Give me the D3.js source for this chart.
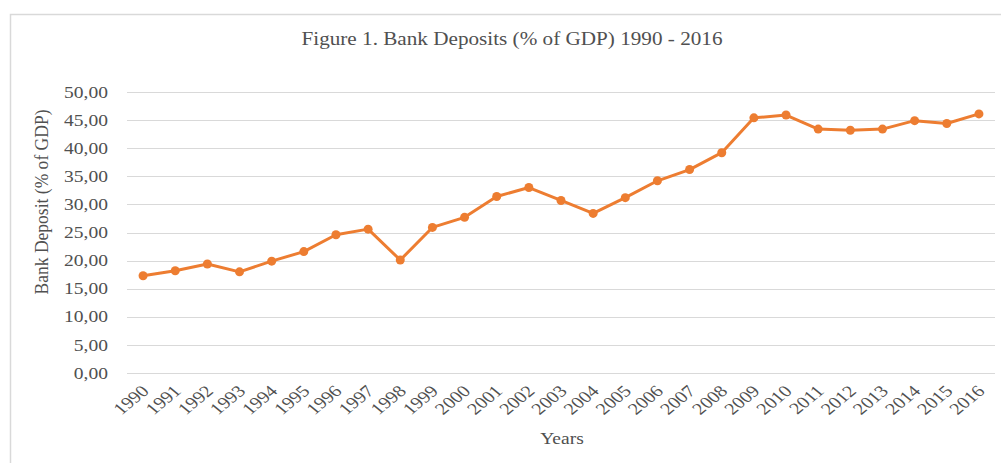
<!DOCTYPE html>
<html><head><meta charset="utf-8">
<script src="https://cdn.jsdelivr.net/npm/d3@7"></script>
<style>body{margin:0;background:#fff}svg{display:block}text{font-family:"Liberation Serif","Times New Roman",serif;fill:#505050}</style>
</head><body>
<svg id="c" width="1001" height="463"></svg>
<script>
const years = ["1990","1991","1992","1993","1994","1995","1996","1997","1998","1999","2000","2001","2002","2003","2004","2005","2006","2007","2008","2009","2010","2011","2012","2013","2014","2015","2016"];
const deposits = [17.3,18.2,19.4,18.0,19.9,21.6,24.6,25.6,20.1,25.9,27.7,31.4,33.0,30.7,28.4,31.2,34.2,36.2,39.2,45.4,45.9,43.4,43.2,43.4,44.9,44.4,46.1];
const yTicks = [0,5,10,15,20,25,30,35,40,45,50];
const title = "Figure 1. Bank Deposits (% of GDP) 1990 - 2016";
const yTitle = "Bank Deposit (% of GDP)";
const xTitle = "Years";

const svg = d3.select("#c");
const SX = 1.22;
const pLeft = 127, pRight = 995, pTop = 92, pBottom = 373;

svg.append("rect").attr("x",10.5).attr("y",14.5).attr("width",1010).attr("height",470)
  .attr("fill","#fff").attr("stroke","#d9d9d9").attr("stroke-width",1.5);

const x = d3.scaleBand().domain(years).range([pLeft,pRight]);
const y = d3.scaleLinear().domain([0,50]).range([pBottom,pTop]);

// gridlines
svg.append("g").selectAll("line").data(yTicks).join("line")
  .attr("x1",pLeft).attr("x2",pRight)
  .attr("y1",d=>Math.round(y(d))+0.5).attr("y2",d=>Math.round(y(d))+0.5)
  .attr("stroke","#d9d9d9").attr("stroke-width",1.2);

const fmt = d => d3.format(".2f")(d).replace(".",",");
// y tick labels
svg.append("g").selectAll("g").data(yTicks).join("g")
  .attr("transform",d=>`translate(108,${y(d)}) scale(${SX},1)`)
  .append("text").attr("text-anchor","end").attr("dy","0.35em")
  .style("font-size","16px").text(fmt);

// x tick labels
svg.append("g").selectAll("g").data(years).join("g")
  .attr("transform",d=>`translate(${x(d)+x.bandwidth()/2+2},388) scale(${SX},1) rotate(-45)`)
  .append("text").attr("text-anchor","end").attr("dy","0.35em")
  .style("font-size","16.5px").text(d=>d);

// line
const line = d3.line().x((d,i)=>x(years[i])+x.bandwidth()/2).y(d=>y(d));
svg.append("path").datum(deposits).attr("d",line)
  .attr("fill","none").attr("stroke","#ED7D31").attr("stroke-width",3).attr("stroke-linejoin","round");
svg.append("g").selectAll("circle").data(deposits).join("circle")
  .attr("cx",(d,i)=>x(years[i])+x.bandwidth()/2).attr("cy",d=>y(d))
  .attr("r",4.5).attr("fill","#ED7D31");

// title
svg.append("text").attr("x",512).attr("y",45).attr("text-anchor","middle")
  .style("font-size","18px").attr("textLength",421).attr("lengthAdjust","spacingAndGlyphs").text(title);

// y title
svg.append("g").attr("transform",`translate(48,202) scale(${SX},1) rotate(-90)`)
  .append("text").attr("text-anchor","middle")
  .style("font-size","16px").attr("textLength",185).attr("lengthAdjust","spacingAndGlyphs").text(yTitle);

// x title
svg.append("g").attr("transform",`translate(562,444) scale(${SX},1)`)
  .append("text").attr("text-anchor","middle").style("font-size","16px").text(xTitle);
</script>
</body></html>
